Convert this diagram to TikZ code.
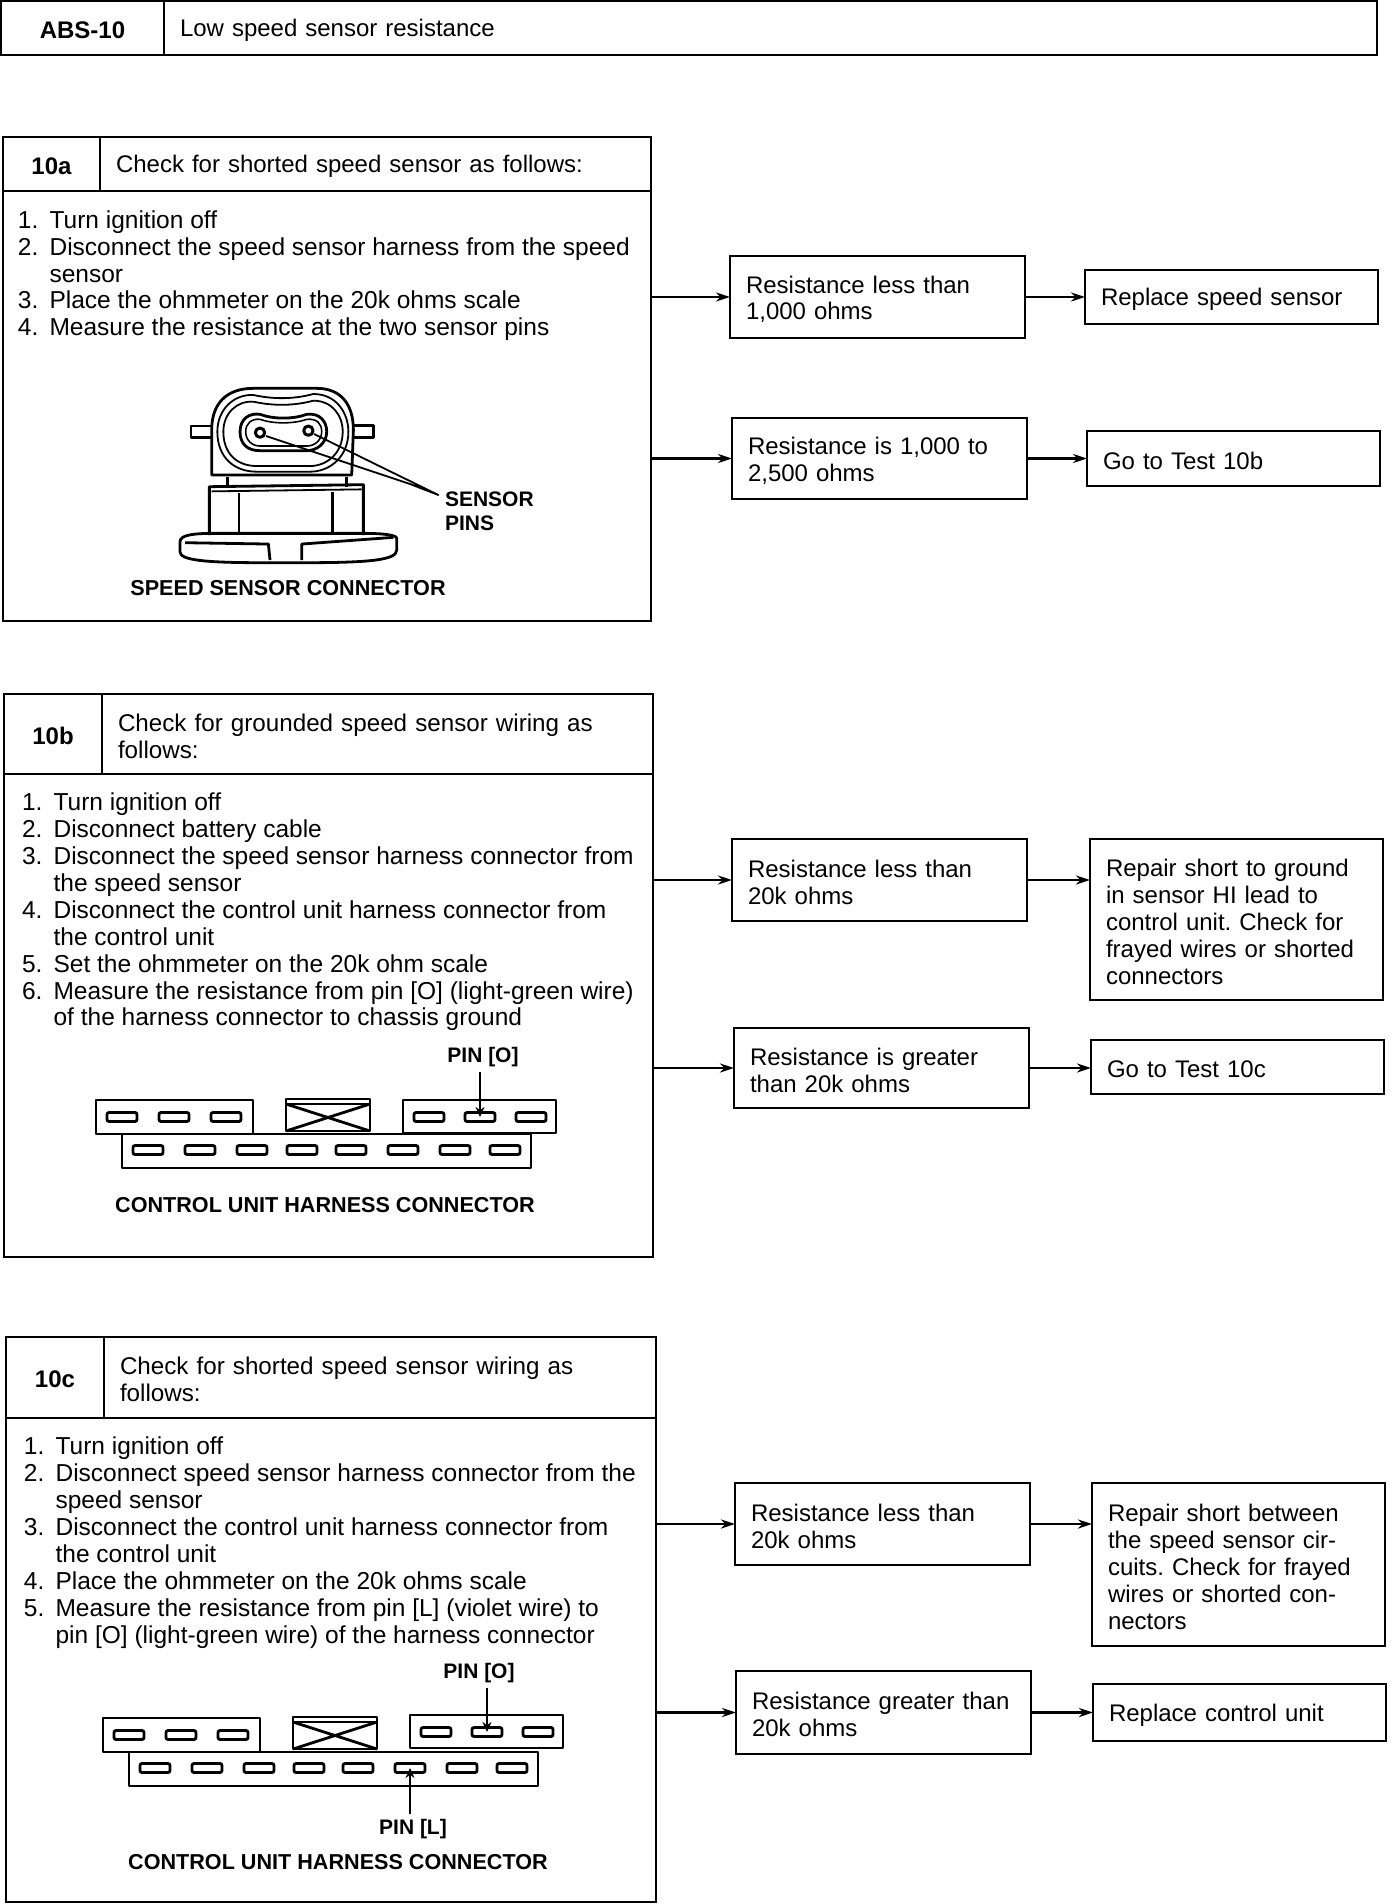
\documentclass[tikz,border=0pt]{standalone}
\usepackage{fontspec}
\setmainfont{Liberation Sans}
\usetikzlibrary{arrows.meta}
\newcommand{\stepno}[1]{\makebox[15.8pt][l]{#1.}}
\newcommand{\stepgap}{\makebox[15.8pt]{}}
\newcommand{\harness}[4]{%
  \begin{scope}[shift={(#2,#3)}]
    \draw[part] (103,1718) rectangle (260,1752);
    \draw[part] (293,1717) rectangle (377,1749);
    \draw[part] (293,1722) -- (377,1722);
    \draw[part] (293,1749) -- (377,1722) (293,1722) -- (377,1749);
    \draw[part] (129,1752) rectangle (538,1786);
    \foreach \sx [count=\n] in {129,181,233}
      \node[slot] (#1l\n) at (\sx,1735) {};
    \foreach \sx [count=\n] in {155,207,259,309,358,410,462,512}
      \node[slot] (#1b\n) at (\sx,1768) {};
    \begin{scope}[shift={(0,#4)}]
      \draw[part] (410,1715) rectangle (563,1748);
      \foreach \sx [count=\n] in {436,487,538}
        \node[slot] (#1r\n) at (\sx,1732) {};
    \end{scope}
  \end{scope}}
\begin{document}
\begin{tikzpicture}[x=0.5pt, y=-0.5pt,
  every node/.style={outer sep=0pt, font=\fontsize{12}{13.45}\selectfont\frenchspacing},
  cell/.style={draw, line width=1.1pt, anchor=north west, inner xsep=8pt, inner ysep=0pt, align=left,
    execute at begin node={\rule{0pt}{11pt}}},
  hdcell/.style={cell, font=\fontsize{12.1}{13.45}\selectfont\frenchspacing},
  idcell/.style={draw, line width=1.1pt, anchor=north west, inner sep=0pt,
    font=\fontsize{12}{13.45}\selectfont\bfseries, execute at begin node={\rule{0pt}{10.5pt}}},
  frame/.style={draw, line width=1.1pt, anchor=north west, inner sep=0pt},
  steps/.style={anchor=north west, inner sep=0pt, align=left, font=\fontsize{12.25}{13.45}\selectfont\frenchspacing},
  resbox/.style={cell, text width=131.5pt},
  actbox/.style={cell, text width=130.5pt},
  arr/.style={line width=1.2pt, -{Stealth[length=7pt,width=4.5pt]}},
  part/.style={line width=1.4pt, line join=round},
  slot/.style={draw, line width=1.4pt, rounded corners=1pt, minimum width=15pt, minimum height=4.5pt, inner sep=0pt},
  pinarr/.style={line width=1.2pt, -{Stealth[length=5pt,width=4.5pt]}},
  caplabel/.style={font=\fontsize{10.5}{12}\selectfont\bfseries, inner sep=0pt},
  capline/.style={font=\fontsize{10.8}{12}\selectfont\bfseries, inner sep=0pt}]
  \useasboundingbox (0,0) rectangle (1392,1904);

  % title row
  \node[idcell, minimum width=81.5pt, minimum height=27pt] (idabs) at (1,1) {ABS-10};
  \node[cell, text width=590.5pt, minimum height=27pt] (hdabs) at (idabs.north east) {Low speed sensor resistance};

  % 10a
  \node[idcell, minimum width=48.5pt, minimum height=27pt] (id10a) at (3,137) {10a};
  \node[cell, text width=259.5pt, minimum height=27pt] (hd10a) at (id10a.north east) {Check for shorted speed sensor as follows:};
  \node[frame, minimum width=324pt, minimum height=215pt] (box10a) at (id10a.south west) {};
  \node[steps] (st10a) at (18,210.5) {\stepno{1}Turn ignition off\\
    \stepno{2}Disconnect the speed sensor harness from the speed\\
    \stepgap sensor\\
    \stepno{3}Place the ohmmeter on the 20k ohms scale\\
    \stepno{4}Measure the resistance at the two sensor pins};
  \node[resbox, minimum height=41pt] (res1a) at (730,256) {Resistance less than\\1,000 ohms};
  \node[resbox, minimum height=40.5pt] (res2a) at (732,418) {Resistance is 1,000 to\\2,500 ohms};
  \node[actbox, minimum height=27pt] (act1a) at (1085,270) {Replace speed sensor};
  \node[actbox, minimum height=27.5pt] (act2a) at (1087,431) {Go to Test 10b};
  \draw[arr] (box10a.east |- res1a.west) -- (res1a.west);
  \draw[arr] (box10a.east |- res2a.west) -- (res2a.west);
  \draw[arr] (res1a.east) -- (act1a.west |- res1a.east);
  \draw[arr] (res2a.east) -- (act2a.west |- res2a.east);

  % sensor drawing
  \begin{scope}[shift={(130,360)}, x=0.1667pt, y=-0.1667pt]
    \draw[part] (245,345) -- (245,210) .. controls (245,130) and (290,85) .. (370,85) -- (560,85) .. controls (630,85) and (670,130) .. (670,210) -- (665,345) -- cycle;
    \draw[part, line width=0.9pt] (262,215) .. controls (262,150) and (310,102) .. (370,105) .. controls (430,118) and (490,118) .. (550,102) .. controls (620,102) and (655,160) .. (655,215) .. controls (655,290) and (600,335) .. (540,335) -- (380,335) .. controls (310,335) and (262,290) .. (262,215) -- cycle;
    \draw[part, line width=0.9pt] (280,215) .. controls (280,160) and (320,122) .. (370,125) .. controls (430,138) and (490,138) .. (550,122) .. controls (605,122) and (638,165) .. (638,215) .. controls (638,280) and (590,318) .. (540,318) -- (380,318) .. controls (320,318) and (280,280) .. (280,215) -- cycle;
    \draw[part] (330,215) .. controls (330,175) and (360,158) .. (390,163) .. controls (430,178) and (490,178) .. (530,163) .. controls (570,158) and (590,185) .. (590,215) .. controls (590,250) and (560,272) .. (530,272) -- (390,272) .. controls (350,272) and (330,250) .. (330,215) -- cycle;
    \draw[part, line width=0.8pt] (347,215) .. controls (347,190) and (365,175) .. (390,178) .. controls (430,192) and (490,192) .. (530,178) .. controls (560,175) and (575,190) .. (575,215) .. controls (575,240) and (555,258) .. (530,258) -- (390,258) .. controls (365,258) and (347,240) .. (347,215) -- cycle;
    \draw[part, line width=1.5pt] (390,218) circle (14) (535,212) circle (14);
    \draw[part, line width=0.9pt] (408,228) -- (840,372) -- (925,405) -- (552,222);
    \draw[part] (245,198) -- (183,198) -- (183,232) -- (245,232);
    \draw[part] (670,196) -- (730,196) -- (730,232) -- (670,232);
    \draw[part] (292,350) -- (292,380) (650,350) -- (650,380);
    \draw[part] (238,525) -- (238,380) -- (700,374) -- (700,525);
    \draw[part, line width=0.9pt] (245,394) -- (695,388);
    \draw[part] (327,400) -- (327,525) (607,396) -- (607,525);
    \draw[part] (250,520) .. controls (190,520) and (150,525) .. (150,545) -- (150,575) .. controls (150,600) and (220,608) .. (400,608) -- (520,608) .. controls (720,608) and (800,600) .. (800,570) -- (800,535) .. controls (800,525) and (760,520) .. (700,520) -- cycle;
    \draw[part] (165,548) -- (415,552) -- (420,600) (515,600) -- (515,552) -- (790,532);
  \end{scope}
  \node[caplabel, anchor=north west, align=left] (lbpins) at (445,492) {SENSOR\\PINS};
  \node[capline] (cap10a) at (288,588) {SPEED SENSOR CONNECTOR};

  % 10b
  \node[idcell, minimum width=49pt, minimum height=40pt] (id10b) at (4,694) {10b};
  \node[hdcell, text width=259.5pt, minimum height=40pt] (hd10b) at (id10b.north east) {Check for grounded speed sensor wiring as\\follows:};
  \node[frame, minimum width=324.5pt, minimum height=241.5pt] (box10b) at (id10b.south west) {};
  \node[steps] (st10b) at (22,793) {\stepno{1}Turn ignition off\\
    \stepno{2}Disconnect battery cable\\
    \stepno{3}Disconnect the speed sensor harness connector from\\
    \stepgap the speed sensor\\
    \stepno{4}Disconnect the control unit harness connector from\\
    \stepgap the control unit\\
    \stepno{5}Set the ohmmeter on the 20k ohm scale\\
    \stepno{6}Measure the resistance from pin [O] (light-green wire)\\
    \stepgap of the harness connector to chassis ground};
  \node[resbox, minimum height=41pt] (res1b) at (732,839) {Resistance less than\\20k ohms};
  \node[resbox, minimum height=40pt] (res2b) at (734,1028) {Resistance is greater\\than 20k ohms};
  \node[actbox, minimum height=80.5pt] (act1b) at (1090,839) {Repair short to ground\\in sensor HI lead to\\control unit. Check for\\frayed wires or shorted\\connectors};
  \node[actbox, minimum height=27pt] (act2b) at (1091,1040) {Go to Test 10c};
  \draw[arr] (box10b.east |- res1b.west) -- (res1b.west);
  \draw[arr] (box10b.east |- res2b.west) -- (res2b.west);
  \draw[arr] (res1b.east) -- (act1b.west |- res1b.east);
  \draw[arr] (res2b.east) -- (act2b.west |- res2b.east);
  \harness{hb}{-7}{-618}{3}
  \node[caplabel] (pinob) at (483,1057) {PIN [O]};
  \draw[pinarr] (pinob.south -| hbr2.north) ++(0,5) -- (hbr2.center);
  \node[capline] (cap10b) at (325,1205) {CONTROL UNIT HARNESS CONNECTOR};

  % 10c
  \node[idcell, minimum width=49pt, minimum height=40.5pt] (id10c) at (6,1337) {10c};
  \node[hdcell, text width=260pt, minimum height=40.5pt] (hd10c) at (id10c.north east) {Check for shorted speed sensor wiring as\\follows:};
  \node[frame, minimum width=325pt, minimum height=242pt] (box10c) at (id10c.south west) {};
  \node[steps] (st10c) at (24,1437) {\stepno{1}Turn ignition off\\
    \stepno{2}Disconnect speed sensor harness connector from the\\
    \stepgap speed sensor\\
    \stepno{3}Disconnect the control unit harness connector from\\
    \stepgap the control unit\\
    \stepno{4}Place the ohmmeter on the 20k ohms scale\\
    \stepno{5}Measure the resistance from pin [L] (violet wire) to\\
    \stepgap pin [O] (light-green wire) of the harness connector};
  \node[resbox, minimum height=41pt] (res1c) at (735,1483) {Resistance less than\\20k ohms};
  \node[resbox, minimum height=41.5pt] (res2c) at (736,1671) {Resistance greater than\\20k ohms};
  \node[actbox, minimum height=81.5pt] (act1c) at (1092,1483) {Repair short between\\the speed sensor cir-\\cuits. Check for frayed\\wires or shorted con-\\nectors};
  \node[actbox, minimum height=28.5pt] (act2c) at (1093,1684) {Replace control unit};
  \draw[arr] (box10c.east |- res1c.west) -- (res1c.west);
  \draw[arr] (box10c.east |- res2c.west) -- (res2c.west);
  \draw[arr] (res1c.east) -- (act1c.west |- res1c.east);
  \draw[arr] (res2c.east) -- (act2c.west |- res2c.east);
  \harness{hc}{0}{0}{0}
  \node[caplabel] (pinoc) at (479,1673) {PIN [O]};
  \node[caplabel] (pinlc) at (413,1829) {PIN [L]};
  \draw[pinarr] (pinoc.south -| hcr2.north) ++(0,5) -- (hcr2.center);
  \draw[pinarr] (pinlc.north -| hcb6.south) ++(0,-5) -- (hcb6.center);
  \node[capline] (cap10c) at (338,1862) {CONTROL UNIT HARNESS CONNECTOR};
\end{tikzpicture}
\end{document}
